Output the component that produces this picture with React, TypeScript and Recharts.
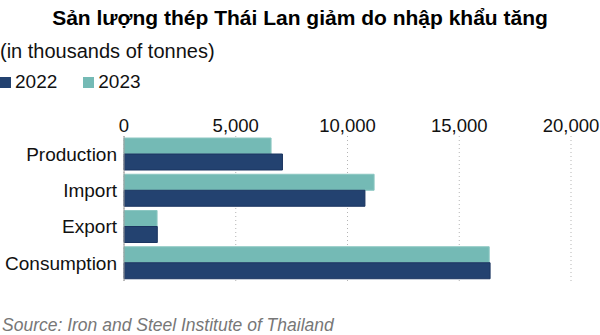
import React from "react";
import { BarChart, Bar, XAxis, YAxis, CartesianGrid } from "recharts";

const categories = ["Production", "Import", "Export", "Consumption"];
const values2022 = [7090, 10780, 1490, 16380];
const values2023 = [6580, 11190, 1480, 16340];
const xTicks = [0, 5000, 10000, 15000, 20000];

const data = categories.map((name, i) => ({
  name,
  y2022: values2022[i],
  y2023: values2023[i],
}));

const DARK = "#234270";
const TEAL = "#74bab5";
const FONT = "'Liberation Sans', Arial, sans-serif";

export default function App() {
  return (
    <div
      style={{
        position: "absolute",
        left: 0,
        top: 0,
        width: 600,
        height: 335,
        background: "#fff",
        fontFamily: FONT,
        overflow: "hidden",
      }}
    >
      <div
        style={{
          position: "absolute",
          top: 6,
          left: 0,
          width: 600,
          textAlign: "center",
          fontWeight: "bold",
          fontSize: 21,
          lineHeight: "24px",
          color: "#000",
        }}
      >
        Sản lượng thép Thái Lan giảm do nhập khẩu tăng
      </div>
      <div
        style={{
          position: "absolute",
          top: 40,
          left: 0,
          fontSize: 20,
          lineHeight: "23px",
          color: "#111",
        }}
      >
        (in thousands of tonnes)
      </div>
      <div
        style={{
          position: "absolute",
          top: 71,
          left: 0,
          fontSize: 19,
          lineHeight: "22px",
          color: "#111",
          display: "flex",
          alignItems: "center",
        }}
      >
        <span style={{ display: "inline-block", width: 11, height: 11, background: DARK, marginRight: 4 }} />
        <span style={{ marginRight: 26 }}>2022</span>
        <span style={{ display: "inline-block", width: 11, height: 11, background: TEAL, marginRight: 4 }} />
        <span>2023</span>
      </div>
      <div style={{ position: "absolute", left: 0, top: 0 }}>
        <BarChart
          width={600}
          height={335}
          data={data}
          layout="vertical"
          margin={{ top: 106, right: 29, bottom: 54, left: 0 }}
          barCategoryGap={2}
          barGap={0}
        >
          <CartesianGrid
            horizontal={false}
            vertical={true}
            stroke="#b5b5b5"
            strokeDasharray="1 3"
          />
          <XAxis
            type="number"
            orientation="top"
            domain={[0, 20000]}
            ticks={xTicks}
            height={30}
            axisLine={false}
            tickLine={false}
            tickSize={4}
            tickMargin={0}
            interval={0}
            tickFormatter={(v: number) => v.toLocaleString("en-US")}
            tick={{ fontSize: 18.5, fill: "#111", fontFamily: FONT }}
          />
          <YAxis
            type="category"
            dataKey="name"
            width={124}
            axisLine={{ stroke: "#9a9a9a" }}
            tickLine={false}
            tickSize={6}
            tickMargin={1}
            tick={{ fontSize: 19, fill: "#111", fontFamily: FONT }}
          />
          <Bar dataKey="y2023" fill={TEAL} stroke="#8cc7c2" strokeWidth={1} isAnimationActive={false} />
          <Bar dataKey="y2022" fill={DARK} stroke="#1b3560" strokeWidth={1} isAnimationActive={false} />
        </BarChart>
      </div>
      <div
        style={{
          position: "absolute",
          top: 315,
          left: 2,
          fontSize: 17.5,
          lineHeight: "20px",
          fontStyle: "italic",
          color: "#777",
        }}
      >
        Source: Iron and Steel Institute of Thailand
      </div>
    </div>
  );
}
